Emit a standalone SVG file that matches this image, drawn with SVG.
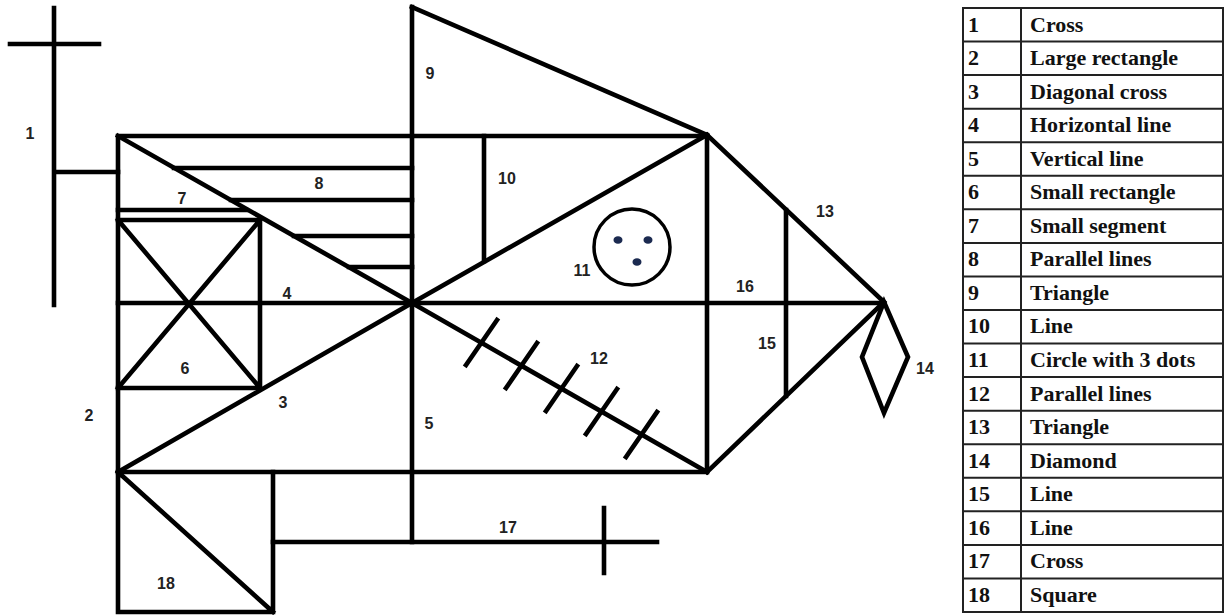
<svg xmlns="http://www.w3.org/2000/svg" width="1229" height="615" viewBox="0 0 1229 615">
<style>
.ln{stroke:#000;stroke-width:4.6;fill:none;stroke-linecap:square;stroke-linejoin:miter}
.thin{stroke:#000;stroke-width:3.5;fill:none}
.lb{font-family:"Liberation Sans",Arial,sans-serif;font-size:16px;font-weight:bold;fill:#222;text-anchor:middle}
.tb{font-family:"Liberation Serif","Times New Roman",serif;font-size:22px;font-weight:bold;fill:#111}
.grid{stroke:#222;stroke-width:2;fill:none}
.dot{fill:#1b2a50}
</style>
<rect width="1229" height="615" fill="#fff"/>
<g id="connectors">
  <path id="rect2" class="ln" d="M118,136 H707 V472 H118 Z"/>
  <path id="diag3" class="ln" d="M118,136 L412,303 L707,472 M118,472 L412,303 L707,135"/>
  <path id="h4" class="ln" d="M118,303 H884"/>
  <path id="v5" class="ln" d="M412,7 V542"/>
</g>
<g id="n1"><path class="ln" d="M54,8 V305 M10,44 H99 M54,172 H118"/><text class="lb" x="30" y="139">1</text></g>
<g id="n2"><text class="lb" x="89" y="421">2</text></g>
<g id="n3"><text class="lb" x="283" y="408">3</text></g>
<g id="n4"><text class="lb" x="287" y="299">4</text></g>
<g id="n5"><text class="lb" x="429" y="429">5</text></g>
<g id="n6"><path class="ln" d="M118,220 H260 V388 H118 M118,220 L260,388 M260,220 L118,388"/><text class="lb" x="185" y="374">6</text></g>
<g id="n7"><path class="ln" d="M118,210 H246"/><text class="lb" x="182" y="204">7</text></g>
<g id="n8"><path class="ln" d="M174,168 H412 M231,200 H412 M294,236 H412 M349,267 H412"/><text class="lb" x="319" y="189">8</text></g>
<g id="n9"><path class="ln" d="M412,7 L707,135"/><text class="lb" x="430" y="79">9</text></g>
<g id="n10"><path class="ln" d="M484,136 V261"/><text class="lb" x="507" y="184">10</text></g>
<g id="n11"><circle class="thin" cx="632" cy="247" r="38"/><ellipse class="dot" cx="618" cy="240" rx="4.5" ry="3.8"/><ellipse class="dot" cx="648" cy="240" rx="4.5" ry="3.8"/><ellipse class="dot" cx="637" cy="262" rx="4.5" ry="3.8"/><text class="lb" x="582" y="276">11</text></g>
<g id="n12"><path class="ln" d="M466,365 L497,320 M506,388 L537,343 M546,411 L577,366 M586,434 L617,389 M626,457 L657,412"/><text class="lb" x="599" y="364">12</text></g>
<g id="n13"><path class="ln" d="M707,135 L884,302 L707,472"/><text class="lb" x="825" y="217">13</text></g>
<g id="n14"><path class="ln" d="M884,302 L908,357 L884,413 L862,357 Z"/><text class="lb" x="925" y="374">14</text></g>
<g id="n15"><path class="ln" d="M786,210 V396"/><text class="lb" x="767" y="349">15</text></g>
<g id="n16"><text class="lb" x="745" y="292">16</text></g>
<g id="n17"><path class="ln" d="M273,542 H657 M604,508 V573"/><text class="lb" x="508" y="533">17</text></g>
<g id="n18"><path class="ln" d="M118,472 V612 H273 V472 M118,472 L273,612"/><text class="lb" x="166" y="589">18</text></g>
<g id="legend">
  <rect class="grid" x="963" y="8" width="260" height="604"/>
  <path class="grid" d="M1021,8 V612 M963,41.6 H1223 M963,75.1 H1223 M963,108.7 H1223 M963,142.2 H1223 M963,175.8 H1223 M963,209.3 H1223 M963,242.9 H1223 M963,276.4 H1223 M963,310 H1223 M963,343.6 H1223 M963,377.1 H1223 M963,410.7 H1223 M963,444.2 H1223 M963,477.8 H1223 M963,511.3 H1223 M963,544.9 H1223 M963,578.4 H1223"/>
  <g class="tb">
    <text x="968" y="31.5">1</text><text x="1030" y="31.5">Cross</text>
    <text x="968" y="65">2</text><text x="1030" y="65">Large rectangle</text>
    <text x="968" y="98.5">3</text><text x="1030" y="98.5">Diagonal cross</text>
    <text x="968" y="132">4</text><text x="1030" y="132">Horizontal line</text>
    <text x="968" y="165.6">5</text><text x="1030" y="165.6">Vertical line</text>
    <text x="968" y="199.2">6</text><text x="1030" y="199.2">Small rectangle</text>
    <text x="968" y="232.7">7</text><text x="1030" y="232.7">Small segment</text>
    <text x="968" y="266.3">8</text><text x="1030" y="266.3">Parallel lines</text>
    <text x="968" y="299.8">9</text><text x="1030" y="299.8">Triangle</text>
    <text x="968" y="333.4">10</text><text x="1030" y="333.4">Line</text>
    <text x="968" y="366.9">11</text><text x="1030" y="366.9">Circle with 3 dots</text>
    <text x="968" y="400.5">12</text><text x="1030" y="400.5">Parallel lines</text>
    <text x="968" y="434.1">13</text><text x="1030" y="434.1">Triangle</text>
    <text x="968" y="467.6">14</text><text x="1030" y="467.6">Diamond</text>
    <text x="968" y="501.2">15</text><text x="1030" y="501.2">Line</text>
    <text x="968" y="534.7">16</text><text x="1030" y="534.7">Line</text>
    <text x="968" y="568.3">17</text><text x="1030" y="568.3">Cross</text>
    <text x="968" y="601.8">18</text><text x="1030" y="601.8">Square</text>
  </g>
</g>
</svg>
